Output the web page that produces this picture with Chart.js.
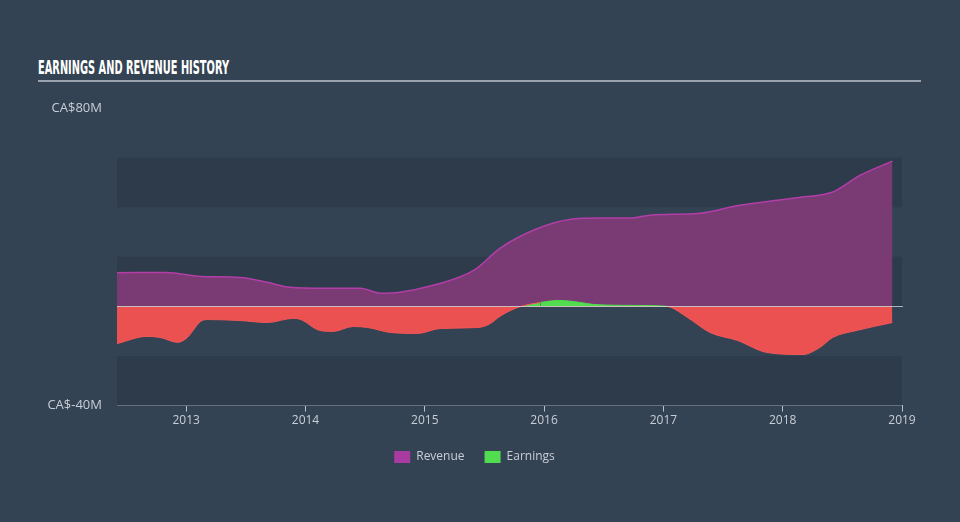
<!DOCTYPE html>
<html>
<head>
<meta charset="utf-8">
<script src="https://cdn.jsdelivr.net/npm/chart.js@4"></script>
<style>
  html, body { margin: 0; padding: 0; }
  body { width: 960px; height: 522px; background: #344353; position: relative; overflow: hidden; font-family: "Open Sans", sans-serif; }
  #title { position: absolute; left: 38px; top: 56px; color: #ffffff; font-family: "DejaVu Sans Condensed", "DejaVu Sans", sans-serif; font-stretch: condensed; font-weight: bold; font-size: 19px; line-height: 22px; white-space: nowrap; transform-origin: 0 0; }
  #rule { position: absolute; left: 38px; top: 80px; width: 883px; height: 2px; background: #9aa3ad; }
  #wrap { position: absolute; left: 0; top: 0; width: 960px; height: 522px; }
</style>
</head>
<body>
<div id="title">EARNINGS AND REVENUE HISTORY</div>
<div id="rule"></div>
<div id="wrap"><canvas id="myChart"></canvas></div>
<script>
// values in CA$ millions, dates as decimal years
const revenueYears = [2012.42, 2012.84, 2013.12, 2013.45, 2013.68, 2013.87, 2014.16, 2014.46, 2014.63, 2014.79,
    2015.07, 2015.41, 2015.63, 2015.91, 2016.24, 2016.47, 2016.72, 2016.89, 2017.31, 2017.64,
    2017.89, 2018.15, 2018.42, 2018.65, 2018.92];
const revenueValues = [13.6, 13.7, 12.1, 11.7, 9.7, 7.7, 7.3, 7.3, 5.3, 5.7,
    8.5, 14.5, 23.4, 30.7, 35.2, 35.6, 35.6, 36.8, 37.6, 40.8,
    42.4, 44.0, 46.1, 52.9, 58.6];

const earningsYears = [2012.42, 2012.67, 2012.78, 2012.93, 2013.01, 2013.12, 2013.18, 2013.45, 2013.68, 2013.90,
    2013.96, 2014.12, 2014.23, 2014.40, 2014.52, 2014.71, 2014.94, 2015.13, 2015.45, 2015.55,
    2015.63, 2015.78, 2015.97, 2016.13, 2016.30, 2016.41, 2016.75, 2017.03, 2017.20, 2017.39,
    2017.62, 2017.87, 2018.17, 2018.31, 2018.42, 2018.62, 2018.92];
const earningsValues = [-15.0, -12.1, -12.5, -14.5, -12.5, -6.1, -5.3, -5.7, -6.5, -4.8,
    -5.3, -9.7, -10.1, -8.1, -8.5, -10.5, -10.9, -8.9, -8.5, -6.9,
    -4.0, -0.4, 1.6, 2.4, 1.6, 0.8, 0.4, 0.0, -4.4, -10.5,
    -13.7, -18.6, -19.4, -16.6, -12.5, -9.7, -6.5];

const yearTicks = [2013, 2014, 2015, 2016, 2017, 2018, 2019];
const valueTicks = [-40, 80];
const bandEdges = [60, 40, 20, 0, -20, -40];

const textColor = "#c9ced6";

// squeeze the title to the narrow width of the original
const title = document.getElementById("title");
title.style.transform = "scaleX(" + (191 / title.getBoundingClientRect().width) + ")";

const bands = {
    id: "bands",
    beforeDatasetsDraw(chart) {
        const { ctx, chartArea, scales } = chart;
        ctx.save();
        ctx.fillStyle = "#2e3b4b";
        for (let i = 0; i < bandEdges.length - 1; i += 2) {
            const top = scales.y.getPixelForValue(bandEdges[i]);
            const bottom = scales.y.getPixelForValue(bandEdges[i + 1]);
            ctx.fillRect(chartArea.left, top, chartArea.right - chartArea.left, bottom - top);
        }
        ctx.restore();
    },
    afterDatasetsDraw(chart) {
        const { ctx, chartArea, scales } = chart;
        const y0 = Math.round(scales.y.getPixelForValue(0)) + 0.5;
        ctx.save();
        ctx.strokeStyle = "rgba(255,255,255,0.6)";
        ctx.lineWidth = 1;
        ctx.beginPath();
        ctx.moveTo(chartArea.left, y0);
        ctx.lineTo(chartArea.right + 1, y0);
        ctx.stroke();
        ctx.restore();
    },
};

const myChart = new Chart(document.getElementById("myChart"), {
    type: "line",
    data: {
        datasets: [
            {
                label: "Earnings",
                data: earningsYears.map((x, i) => ({ x: x, y: earningsValues[i] })),
                fill: { target: "origin", above: "#52dc4f", below: "#ec5151" },
                backgroundColor: "#52dc4f",
                borderColor: "#f25757",
                segment: {
                    borderColor: (c) => (c.p0.parsed.y >= 0 && c.p1.parsed.y >= 0 ? "#52dc4f" : "#f25757"),
                },
                borderWidth: 1,
                pointRadius: 0,
                cubicInterpolationMode: "monotone",
            },
            {
                label: "Revenue",
                data: revenueYears.map((x, i) => ({ x: x, y: revenueValues[i] })),
                fill: "origin",
                backgroundColor: "#7a3a74",
                borderColor: "#b23ea8",
                borderWidth: 1.5,
                pointRadius: 0,
                cubicInterpolationMode: "monotone",
            },
        ],
    },
    plugins: [bands],
    options: {
        responsive: true,
        maintainAspectRatio: false,
        animation: false,
        layout: {
            padding: { top: 108, left: 47, right: 58, bottom: 49 },
        },
        plugins: {
            tooltip: { enabled: false },
            legend: {
                position: "bottom",
                reverse: true,
                labels: {
                    color: textColor,
                    boxWidth: 16,
                    boxHeight: 12,
                    padding: 20,
                    font: { family: "Open Sans", size: 12 },
                    generateLabels(chart) {
                        const colors = { Revenue: "#a93a9f", Earnings: "#52dc4f" };
                        return chart.data.datasets.map((d, i) => ({
                            text: d.label,
                            fillStyle: colors[d.label],
                            strokeStyle: colors[d.label],
                            lineWidth: 0,
                            fontColor: textColor,
                            datasetIndex: i,
                        }));
                    },
                },
            },
        },
        scales: {
            x: {
                type: "linear",
                min: 2012.42,
                max: 2019,
                afterBuildTicks(scale) {
                    scale.ticks = yearTicks.map((v) => ({ value: v }));
                },
                afterFit(scale) {
                    scale.height += 1;
                },
                grid: {
                    display: true,
                    drawOnChartArea: false,
                    drawTicks: true,
                    tickLength: 6,
                    color: "#b9c3cf",
                },
                border: { display: true, color: "#b9c3cf", width: 1 },
                ticks: {
                    color: textColor,
                    padding: 2,
                    maxRotation: 0,
                    font: { family: "Open Sans", size: 12 },
                    callback: (v) => String(v),
                },
            },
            y: {
                min: -40,
                max: 80,
                afterBuildTicks(scale) {
                    scale.ticks = valueTicks.map((v) => ({ value: v }));
                },
                afterFit(scale) {
                    scale.width = 70;
                },
                grid: { display: false },
                border: { display: false },
                ticks: {
                    color: textColor,
                    padding: 7,
                    font: { family: "Open Sans", size: 13 },
                    callback: (v) => "CA$" + v + "M",
                },
            },
        },
    },
});
</script>
</body>
</html>
